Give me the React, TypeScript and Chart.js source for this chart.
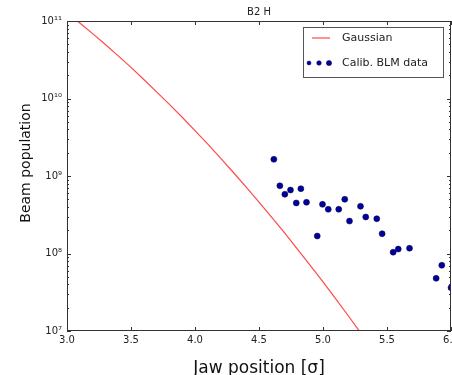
import React, { useEffect, useRef } from "react";
import { Chart, registerables } from "chart.js";

Chart.register(...registerables);

// Gaussian curve
const gaussX = [3.0, 3.1, 3.2, 3.3, 3.4, 3.5, 3.6, 3.7, 3.8, 3.9, 4.0, 4.1, 4.2, 4.3, 4.4, 4.5, 4.6, 4.7, 4.8, 4.9, 5.0, 5.1, 5.2, 5.3];
const gaussY = [1.28e11, 9.42e10, 6.87e10, 4.97e10, 3.55e10, 2.52e10, 1.76e10, 1.22e10, 8.41e9, 5.73e9, 3.85e9, 2.58e9, 1.70e9, 1.11e9, 7.19e8, 4.61e8, 2.92e8, 1.84e8, 1.14e8, 7.03e7, 4.29e7, 2.59e7, 1.55e7, 9.16e6];

// Calibrated BLM data
const blmX = [4.616, 4.663, 4.702, 4.746, 4.791, 4.827, 4.871, 4.955, 4.996, 5.041, 5.123, 5.170, 5.207, 5.293, 5.334, 5.420, 5.462, 5.548, 5.588, 5.676, 5.884, 5.928, 6.0];
const blmY = [1.64e9, 7.48e8, 5.81e8, 6.59e8, 4.49e8, 6.86e8, 4.58e8, 1.68e8, 4.31e8, 3.72e8, 3.72e8, 5.0e8, 2.62e8, 4.06e8, 2.96e8, 2.81e8, 1.8e8, 1.04e8, 1.14e8, 1.17e8, 4.79e7, 7.05e7, 3.62e7];

const xTickValues = [3.0, 3.5, 4.0, 4.5, 5.0, 5.5, 6.0];
const xTickLabels = ["3.0", "3.5", "4.0", "4.5", "5.0", "5.5", "6.0"];
const yTickValues = [1e7, 1e8, 1e9, 1e10, 1e11];
const yTickLabels = ["10\u2077", "10\u2078", "10\u2079", "10\u00b9\u2070", "10\u00b9\u00b9"];

const chartTitle = "B2 H";
const legendLabels = ["Gaussian", "Calib. BLM data"];
const xTitle = "Jaw position [\u03c3]";
const yTitle = "Beam population";

const FONT = "'DejaVu Sans', sans-serif";
const LINE_COLOR = "rgba(255,40,40,0.85)";
const DOT_COLOR = "#0000a0";
const DOT_EDGE = "#000033";

const decorPlugin = {
  id: "decor",
  afterDraw(chart: any) {
    const { ctx, chartArea } = chart;
    const xs = chart.scales.x;
    const ys = chart.scales.y;
    const { left, right, top, bottom } = chartArea;
    ctx.save();
    // frame
    ctx.strokeStyle = "#333";
    ctx.lineWidth = 1;
    ctx.strokeRect(left + 0.5, top + 0.5, right - left - 1, bottom - top - 1);
    // x ticks (inward, top & bottom)
    ctx.beginPath();
    for (const v of xTickValues) {
      const px = Math.round(xs.getPixelForValue(v)) + 0.5;
      ctx.moveTo(px, bottom);
      ctx.lineTo(px, bottom - 4);
      ctx.moveTo(px, top);
      ctx.lineTo(px, top + 4);
    }
    // y ticks major & minor
    for (let d = 7; d <= 11; d++) {
      for (let m = 1; m <= 9; m++) {
        const v = m * Math.pow(10, d);
        if (v > 1e11 * 1.0001) break;
        const py = Math.round(ys.getPixelForValue(v)) + 0.5;
        const len = m === 1 ? 4 : 2;
        ctx.moveTo(left, py);
        ctx.lineTo(left + len, py);
        ctx.moveTo(right, py);
        ctx.lineTo(right - len, py);
      }
    }
    ctx.stroke();

    // title
    ctx.fillStyle = "#222";
    ctx.font = `10px ${FONT}`;
    ctx.textAlign = "center";
    ctx.textBaseline = "middle";
    ctx.fillText(chartTitle, (left + right) / 2, 12);

    // y axis title
    ctx.save();
    ctx.translate(26, (top + bottom) / 2 - 13);
    ctx.rotate(-Math.PI / 2);
    ctx.fillStyle = "#111";
    ctx.font = `14px ${FONT}`;
    ctx.fillText(yTitle, 0, 0);
    ctx.restore();

    // legend
    const bw = 140, bh = 50;
    const bx = right - 8 - bw;
    const by = top + 6;
    ctx.fillStyle = "#fff";
    ctx.fillRect(bx, by, bw, bh);
    ctx.strokeStyle = "#555";
    ctx.lineWidth = 1;
    ctx.strokeRect(bx + 0.5, by + 0.5, bw, bh);
    const y1 = by + 11;
    const y2 = by + 36;
    ctx.strokeStyle = LINE_COLOR;
    ctx.lineWidth = 1.2;
    ctx.beginPath();
    ctx.moveTo(bx + 9, y1);
    ctx.lineTo(bx + 27, y1);
    ctx.stroke();
    const dots = [[bx + 6, 2.0], [bx + 16, 2.3], [bx + 26, 2.6]];
    for (const [dx, r] of dots) {
      ctx.beginPath();
      ctx.arc(dx, y2, r, 0, Math.PI * 2);
      ctx.fillStyle = DOT_COLOR;
      ctx.fill();
      ctx.strokeStyle = DOT_EDGE;
      ctx.lineWidth = 0.5;
      ctx.stroke();
    }
    ctx.fillStyle = "#222";
    ctx.font = `11px ${FONT}`;
    ctx.textAlign = "left";
    ctx.fillText(legendLabels[0], bx + 39, y1);
    ctx.fillText(legendLabels[1], bx + 39, y2);
    ctx.restore();
  },
};

export default function App() {
  const ref = useRef<HTMLCanvasElement | null>(null);
  useEffect(() => {
    if (!ref.current) return;
    const chart = new Chart(ref.current, {
      type: "scatter",
      data: {
        datasets: [
          {
            label: legendLabels[0],
            data: gaussX.map((x, i) => ({ x, y: gaussY[i] })),
            showLine: true,
            borderColor: LINE_COLOR,
            borderWidth: 1.2,
            pointRadius: 0,
            fill: false,
            clip: 0,
          } as any,
          {
            label: legendLabels[1],
            data: blmX.map((x, i) => ({ x, y: blmY[i] })),
            backgroundColor: DOT_COLOR,
            borderColor: DOT_EDGE,
            borderWidth: 0.5,
            pointRadius: 3,
            clip: 0,
          } as any,
        ],
      },
      options: {
        responsive: false,
        animation: false,
        layout: { autoPadding: false, padding: { top: 21, right: 1, left: 0, bottom: 0 } },
        plugins: {
          legend: { display: false },
          title: { display: false },
          tooltip: { enabled: false },
        },
        scales: {
          x: {
            type: "linear",
            min: 3,
            max: 6,
            afterBuildTicks: (s: any) => {
              s.ticks = xTickValues.map((v) => ({ value: v }));
            },
            afterFit: (s: any) => {
              s.height = 44;
              s.paddingLeft = 0;
              s.paddingRight = 0;
            },
            ticks: {
              color: "#222",
              font: { family: FONT, size: 10 },
              padding: 3,
              maxRotation: 0,
              autoSkip: false,
              callback: (v: any) => {
                const i = xTickValues.findIndex((t) => Math.abs(t - Number(v)) < 1e-9);
                return i >= 0 ? xTickLabels[i] : "";
              },
            },
            grid: { display: false, drawTicks: false },
            border: { display: false },
            title: {
              display: true,
              text: xTitle,
              color: "#111",
              font: { family: FONT, size: 17 },
              padding: { top: 0, bottom: -4 },
            },
          },
          y: {
            type: "logarithmic",
            min: 1e7,
            max: 1e11,
            afterBuildTicks: (s: any) => {
              s.ticks = yTickValues.map((v) => ({ value: v }));
            },
            afterFit: (s: any) => {
              s.width = 67;
              s.paddingTop = 0;
              s.paddingBottom = 0;
            },
            ticks: {
              color: "#222",
              font: { family: FONT, size: 10 },
              padding: 5,
              autoSkip: false,
              callback: (v: any) => {
                const i = yTickValues.findIndex((t) => Math.abs(t - Number(v)) / t < 1e-6);
                return i >= 0 ? yTickLabels[i] : "";
              },
            },
            grid: { display: false, drawTicks: false },
            border: { display: false },
            title: { display: false },
          },
        },
      },
      plugins: [decorPlugin],
    } as any);
    return () => chart.destroy();
  }, []);
  return (
    <div style={{ position: "fixed", left: 0, top: 0, width: 452, height: 375, background: "#fff" }}>
      <canvas ref={ref} width={452} height={375} style={{ display: "block" }} />
    </div>
  );
}
